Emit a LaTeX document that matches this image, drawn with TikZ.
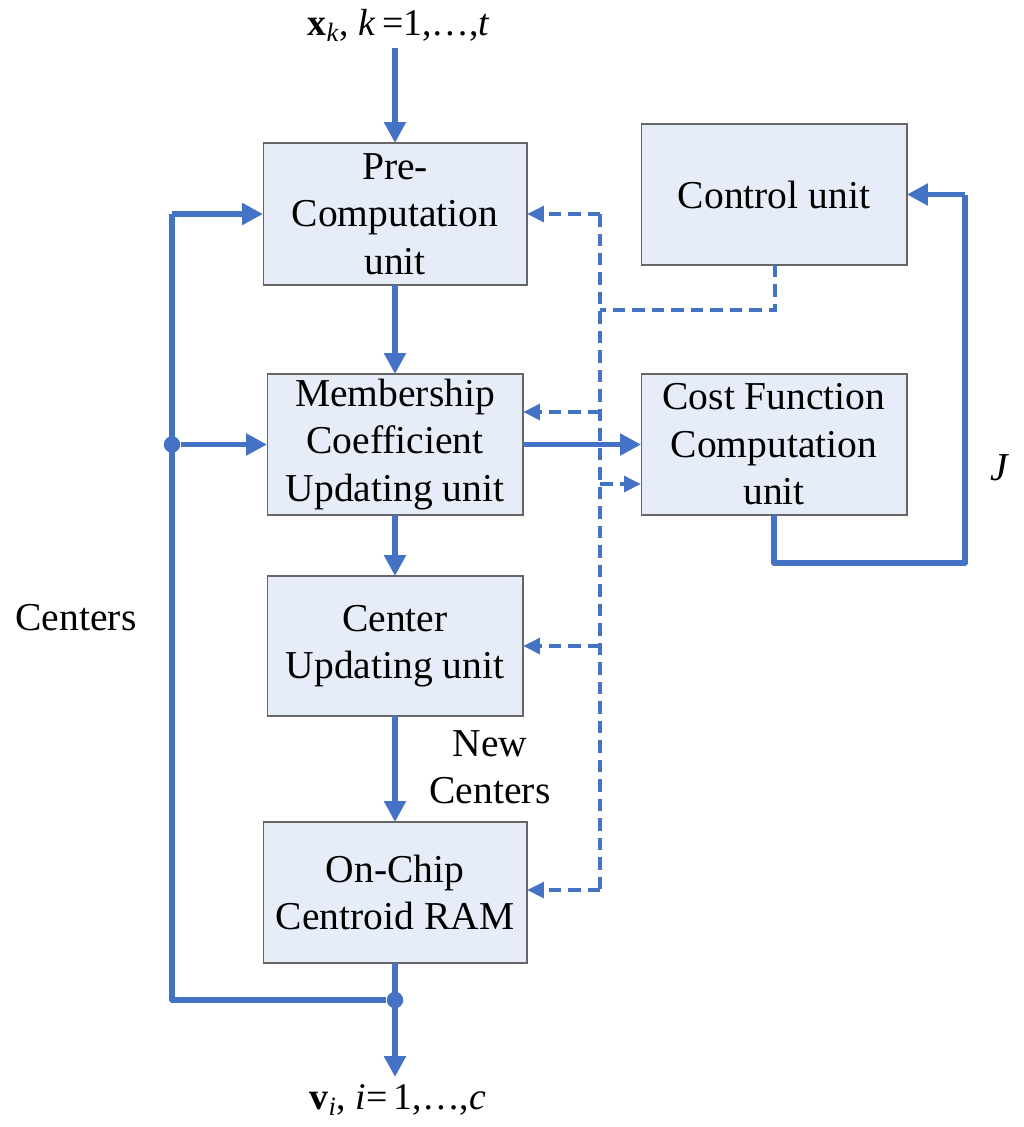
\documentclass[tikz,border=0pt]{standalone}
\usepackage{fontspec}
\setmainfont{Liberation Serif}
\usetikzlibrary{arrows.meta}
\definecolor{linkblue}{HTML}{4472C4}
\definecolor{boxfill}{HTML}{E7EDF8}

\begin{document}
\begin{tikzpicture}[x=0.02cm, y=-0.02cm,
    unit/.style={draw=gray!80!black, line width=0.6pt, fill=boxfill,
        minimum width=5.2cm, minimum height=2.82cm,
        font=\fontsize{22.5}{27}\selectfont, align=center,
        inner sep=0pt, outer sep=0pt},
    link/.style={draw=linkblue, line width=3pt, line join=round},
    arr/.style={link, -{Triangle[length=0.42cm, width=0.42cm]}},
    ctl/.style={draw=linkblue, line width=2.3pt, dash pattern=on 0.25cm off 0.14cm},
    ctlarr/.style={ctl, -{Triangle[length=0.34cm, width=0.31cm]}},
    lbl/.style={font=\fontsize{22.5}{27}\selectfont, align=center, inner sep=0pt},
    dot/.style={circle, fill=linkblue, minimum size=0.33cm, inner sep=0pt}
    ]
    \useasboundingbox (0,0) rectangle (1024,1127);
    % units
    \node[unit, minimum width=5.28cm, minimum height=2.84cm] (pre) at (395,214) {Pre-\\Computation\\unit};
    \node[unit, minimum width=5.12cm] (memb) at (395,444.5) {Membership\\Coefficient\\Updating unit};
    \node[unit, minimum width=5.12cm, minimum height=2.8cm] (cent) at (395,646) {Center\\Updating unit};
    \node[unit, minimum width=5.28cm] (chip) at (395,892.5) {On-Chip\\Centroid RAM};
    \node[unit, minimum width=5.32cm] (ctrl) at (774,194.5) {Control unit};
    \node[unit, minimum width=5.32cm] (cost) at (774,444.5) {Cost Function\\Computation\\unit};
    % in and out
    \node[lbl, font=\fontsize{21.5}{26}\selectfont] (xin) at (399,25) {\textbf{x}\textsubscript{\textit{k}}, \textit{k}\,=1,\ldots,\textit{t}};
    \node[lbl, font=\fontsize{21.5}{26}\selectfont] (vout) at (398,1100) {\textbf{v}\textsubscript{\textit{i}}, \textit{i}=\,1,\ldots,\textit{c}};
    \coordinate (in) at (395,48);
    \coordinate (out) at (395,1077);
    \draw[arr] (in) -- (pre);
    \draw[arr] (pre) -- (memb);
    \draw[arr] (memb) -- (cent);
    \draw[arr] (cent) -- (chip);
    \node[lbl] (newc) at (490,767) {New\\Centers};
    \draw[arr] (chip) -- (out);
    % centers loop
    \node[dot] (j1) at (395,1000) {};
    \node[dot] (j2) at (172,444.5) {};
    \coordinate (lc) at (172,1000);
    \coordinate (lt) at (172,214);
    \draw[link] (j1) -- (lc) -- (lt);
    \draw[arr] (lt) -- (pre.west);
    \draw[arr] (j2) -- (memb.west);
    \node[lbl] (cname) at (76,618) {Centers};
    % cost feedback
    \coordinate (c1) at (774,563);
    \coordinate (c2) at (965,563);
    \coordinate (c3) at (965,194.5);
    \draw[arr] (memb.east) -- (cost.west);
    \draw[link] (cost.south) -- (c1) -- (c2) -- (c3);
    \draw[arr] (c3) -- (ctrl.east);
    \node[lbl] (jval) at (1000,468) {\textit{J}};
    % control lines
    \coordinate (d0) at (775,310);
    \coordinate (d1) at (600,310);
    \coordinate (dt) at (600,214);
    \coordinate (db) at (600,890);
    \draw[ctl] (ctrl.south -| d0) -- (d0) -- (d1);
    \draw[ctl] (dt) -- (db);
    \draw[ctlarr] (dt) -- (pre.east);
    \draw[ctlarr] (600,412) -- (memb.east |- 0,412);
    \draw[ctlarr] (600,484) -- (cost.west |- 0,484);
    \draw[ctlarr] (600,646) -- (cent.east);
    \draw[ctlarr] (db) -- (chip.east |- db);
\end{tikzpicture}
\end{document}
